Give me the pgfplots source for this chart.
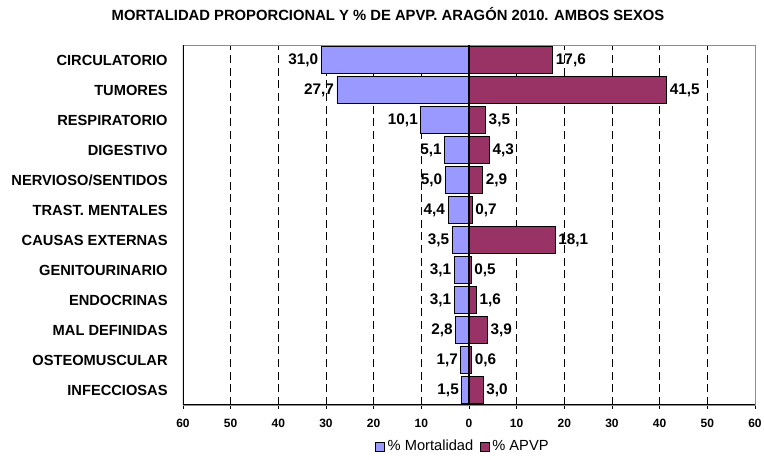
\documentclass[border=0pt]{standalone}
\usepackage{fontspec}
\setmainfont{Liberation Sans}
\usepackage{pgfplots}
\usepackage{pgfplotstable}
\pgfplotsset{compat=1.18}
\definecolor{mortc}{HTML}{9999FF}
\definecolor{apvpc}{HTML}{993366}

\pgfplotstableread{
y x lab
12 -31.0 31,0
11 -27.7 27,7
10 -10.1 10,1
9 -5.1 5,1
8 -5.0 5,0
7 -4.4 4,4
6 -3.5 3,5
5 -3.1 3,1
4 -3.1 3,1
3 -2.8 2,8
2 -1.7 1,7
1 -1.5 1,5
}\mortdata

\pgfplotstableread{
y x lab
12 17.6 17,6
11 41.5 41,5
10 3.5 3,5
9 4.3 4,3
8 2.9 2,9
7 0.7 0,7
6 18.1 18,1
5 0.5 0,5
4 1.6 1,6
3 3.9 3,9
2 0.6 0,6
1 3.0 3,0
}\apvpdata

\begin{document}
\begin{tikzpicture}
\useasboundingbox (-137.25pt,-41.25pt) rectangle (435.75pt,303.75pt);
\begin{axis}[
  scale only axis, width=429pt, height=270pt,
  xbar, bar width=0.9, bar shift=0pt,
  xmin=-60, xmax=60, ymin=0.5, ymax=12.5,
  xtick={-60,-50,...,60},
  xticklabels={60,50,40,30,20,10,0,10,20,30,40,50,60},
  ytick={1,...,12},
  yticklabels={INFECCIOSAS,OSTEOMUSCULAR,MAL DEFINIDAS,ENDOCRINAS,GENITOURINARIO,CAUSAS EXTERNAS,TRAST. MENTALES,NERVIOSO/SENTIDOS,DIGESTIVO,RESPIRATORIO,TUMORES,CIRCULATORIO},
  xtick pos=bottom, ytick pos=left,
  y tick style={draw=none},
  x tick style={black, line width=0.6pt},
  tick align=center, major tick length=6pt,
  xmajorgrids,
  grid style={black, dash pattern=on 6pt off 3.5pt, line width=0.5pt},
  axis line style={black!45, line width=0.5pt},
  /pgf/number format/assume math mode=true,
  xticklabel style={font=\fontsize{9}{10}\selectfont\bfseries, yshift=-4pt},
  yticklabel style={font=\fontsize{11}{12}\selectfont\bfseries, xshift=-5pt},
  point meta=explicit symbolic,
  nodes near coords,
  nodes near coords style={font=\fontsize{11.5}{12}\selectfont\bfseries, inner sep=2pt},
  every axis plot/.append style={draw=black, line width=0.6pt},
  legend style={at={(0.49,-0.115)}, anchor=center, draw=none, fill=none,
    legend columns=2, font=\fontsize{11}{12}\selectfont,
    /tikz/every even column/.append style={column sep=3pt}},
  legend image code/.code={\draw[#1, draw=black, line width=0.5pt] (0pt,-3.4pt) rectangle (6.8pt,3.4pt);},
]
\addplot[fill=mortc, draw=black, nodes near coords style={anchor=east}] table[x=x, y=y, meta=lab] {\mortdata};
\addlegendentry{\% Mortalidad}
\addplot[fill=apvpc, draw=black, nodes near coords style={anchor=west}] table[x=x, y=y, meta=lab] {\apvpdata};
\addlegendentry{\% APVP}
\draw[black, line width=1pt] (axis cs:0,0.5) -- (axis cs:0,12.5);
\draw[black, line width=0.9pt] (rel axis cs:0,1) -- (rel axis cs:0,0) -- (rel axis cs:1,0);
\end{axis}
\node[font=\fontsize{11.1}{12}\selectfont\bfseries] at (153.75pt,293.25pt) {MORTALIDAD PROPORCIONAL Y \% DE APVP. ARAGÓN 2010. AMBOS SEXOS};
\end{tikzpicture}
\end{document}
